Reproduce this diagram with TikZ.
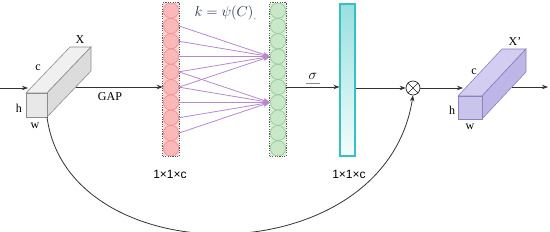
\documentclass[tikz,border=0pt]{standalone}
\usepackage{fontspec}
\setmainfont{Liberation Serif}
\newfontfamily\arialf{Liberation Sans}
\newfontfamily\djvf{DejaVu Sans}
\usetikzlibrary{arrows.meta}
\definecolor{redfill}{HTML}{FAD0D0}
\definecolor{redcirc}{HTML}{FBB8B8}
\definecolor{redline}{HTML}{EE8E8E}
\definecolor{grnfill}{HTML}{D6EED6}
\definecolor{grncirc}{HTML}{C8E8C8}
\definecolor{grnline}{HTML}{92C892}
\definecolor{purp}{HTML}{B48ACD}
\definecolor{cyantop}{HTML}{98E0E0}
\definecolor{cyanbot}{HTML}{F4FCFC}
\definecolor{cyanline}{HTML}{38C0C0}
\definecolor{cubeA}{HTML}{E8E8E8}
\definecolor{cubeB}{HTML}{F0F0F0}
\definecolor{cubeC}{HTML}{DCDCDC}
\definecolor{cubeE}{HTML}{8C8C8C}
\definecolor{lavA}{HTML}{C9C4EC}
\definecolor{lavB}{HTML}{D2CDF1}
\definecolor{lavC}{HTML}{BDB6E6}
\definecolor{lavE}{HTML}{8B82BE}
\definecolor{formc}{HTML}{1F2A44}
\tikzset{
  ln/.style={draw=black!80, line width=0.8pt},
  arr/.style={ln, -{Stealth[length=6pt,width=4.5pt]}},
  parr/.style={draw=purp, line width=0.8pt, -{Stealth[length=7pt,width=5pt]}},
  colbox/.style={rectangle, inner sep=0pt, minimum width=16pt, minimum height=153pt},
  rcirc/.style={circle, inner sep=0pt, minimum size=15.3pt, fill=redcirc, draw=redline, line width=0.6pt},
  gcirc/.style={circle, inner sep=0pt, minimum size=15.3pt, fill=grncirc, draw=grnline, line width=0.6pt},
  border/.style={draw=black!65, line width=1.1pt, dash pattern=on 1.2pt off 1.2pt},
  serlab/.style={font=\fontsize{12}{13}\selectfont, inner sep=0pt},
  dimlab/.style={font=\arialf\fontsize{12}{13}\selectfont, inner sep=0pt},
}
\begin{document}
\begin{tikzpicture}[x=1pt,y=-1pt]
\useasboundingbox (0,0) rectangle (550,232);

% ---------- left cube ----------
\fill[cubeB, draw=cubeE, line width=0.6pt] (26,93) -- (47,93) -- (91,47) -- (70,47) -- cycle;
\fill[cubeC, draw=cubeE, line width=0.6pt] (47,93) -- (47,117) -- (91,71) -- (91,47) -- cycle;
\fill[cubeA, draw=cubeE, line width=0.6pt] (26,93) rectangle (47,117);
\coordinate (inS) at (0,88);
\coordinate (inE) at (28,88);
\coordinate (cubeOut) at (76,87);
\coordinate (cubeBot) at (47,117);
\node[serlab] (lX) at (80,40) {X};
\node[serlab] (lc) at (38,68) {c};
\node[serlab] (lh) at (19,108) {h};
\node[serlab] (lw) at (35,126) {w};
\node[font=\fontsize{12}{13}\selectfont, inner sep=0pt] (gap) at (110,97) {GAP};

% ---------- red column ----------
\node[colbox, fill=redfill] (red) at (171,79.5) {};
\foreach \i in {0,...,9} \node[rcirc] (r\i) at (171,{10.65+15.3*\i}) {};
\draw[border] (red.south west) rectangle (red.north east);

% ---------- green column ----------
\node[colbox, fill=grnfill] (grn) at (278,79.5) {};
\foreach \i in {0,...,9} \node[gcirc] (g\i) at (278,{10.65+15.3*\i}) {};
\draw[border] (grn.south west) rectangle (grn.north east);

% purple connections (1D conv, k=5)
\foreach \i in {1,...,5} \draw[parr] (r\i.east) -- (g3.west);
\foreach \i in {4,...,8} \draw[parr] (r\i.east) -- (g6.west);

\node[font=\fontsize{14.5}{15}\selectfont, text=formc, inner sep=0pt] (kf) at (224,13) {$k=\psi(C)$};
\node[font=\djvf\fontsize{4}{5}\selectfont, text=black!40, inner sep=0pt, anchor=south west] (pm) at (kf.south east) {↵};

% ---------- cyan bar ----------
\node[rectangle, inner sep=0pt, minimum width=15pt, minimum height=152pt,
      top color=cyantop, bottom color=cyanbot, draw=cyanline, line width=1.1pt] (cy) at (347.5,80) {};

\node[font=\fontsize{14}{15}\selectfont, inner sep=0pt] (sig) at (313,76) {$\sigma$};
\draw[black!45, line width=0.6pt] (306,83.5) -- (320,83.5);

% ---------- otimes ----------
\node[circle, draw=black!85, line width=0.7pt, minimum size=14pt, inner sep=0pt] (ot) at (413,88) {};
\draw[black!85, line width=0.7pt] (ot.north west) -- (ot.south east) (ot.north east) -- (ot.south west);

% ---------- right cube ----------
\fill[lavB, draw=lavE, line width=0.6pt] (458,96) -- (482,96) -- (526,49) -- (502,49) -- cycle;
\fill[lavC, draw=lavE, line width=0.6pt] (482,96) -- (482,119) -- (526,72) -- (526,49) -- cycle;
\fill[lavA, draw=lavE, line width=0.6pt] (458,96) rectangle (482,119);
\coordinate (cubeIn) at (463,88);
\coordinate (outS) at (512,87);
\coordinate (outE) at (548,87);
\node[serlab] (rX) at (515,42) {X'};
\node[serlab] (rc) at (474,72) {c};
\node[serlab] (rh) at (452,110) {h};
\node[serlab] (rw) at (470,127) {w};

% ---------- labels ----------
\node[dimlab] (d1) at (170,174) {1×1×c};
\node[dimlab] (d2) at (349,174) {1×1×c};

% ---------- connectors ----------
\draw[arr] (inS) -- (inE);
\draw[arr] (cubeOut) -- (red.west |- cubeOut);
\draw[arr] (grn.east |- cubeOut) -- (cy.west |- cubeOut);
\draw[arr] (cy.east |- ot.west) -- (ot.west);
\draw[arr] (ot.east) -- (cubeIn);
\draw[arr] (outS) -- (outE);
\draw[arr] (cubeBot) .. controls (68,276) and (385,276) .. (ot.south);
\end{tikzpicture}
\end{document}
